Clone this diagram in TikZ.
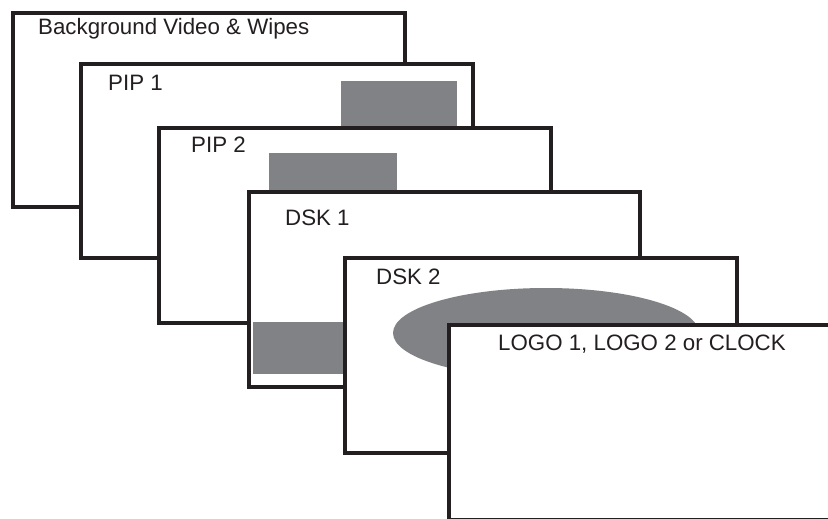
\documentclass[tikz,border=0pt]{standalone}
\usepackage{fontspec}
\setmainfont{Liberation Sans}
\definecolor{ink}{HTML}{231F20}
\definecolor{shade}{HTML}{808285}
\begin{document}
\begin{tikzpicture}[x=1pt,y=-1pt,
  layer/.style={draw=ink,fill=white,line width=3.8pt},
  patch/.style={fill=shade,draw=none},
  lbl/.style={anchor=base west,inner sep=0pt,font=\fontsize{22.3}{25}\selectfont,text=ink}]
\clip (0,0) rectangle (828,519);
\fill[white] (0,0) rectangle (828,519);
% layer 1
\draw[layer] (13,13) rectangle (405,207);
\node[lbl] (bg) at (38,35) {Background Video \& Wipes};
% layer 2
\draw[layer] (81,64) rectangle (473,258);
\fill[patch] (341,81) rectangle (457,140);
\node[lbl] (pip1) at (108,90.5) {PIP 1};
% layer 3
\draw[layer] (159,128) rectangle (551,323);
\fill[patch] (269,153) rectangle (397,200);
\node[lbl] (pip2) at (191,153) {PIP 2};
% layer 4
\draw[layer] (249,192) rectangle (640,387);
\fill[patch] (253,322) rectangle (360,374);
\node[lbl] (dsk1) at (285,225) {DSK 1};
% layer 5
\draw[layer] (345,258) rectangle (737,453);
\fill[patch] (546,333) ellipse [x radius=153, y radius=45];
\node[lbl] (dsk2) at (376,284) {DSK 2};
% layer 6
\draw[layer] (449,325) rectangle (860,520);
\node[lbl] (logo) at (498,350) {LOGO 1, LOGO 2 or CLOCK};
\end{tikzpicture}
\end{document}
